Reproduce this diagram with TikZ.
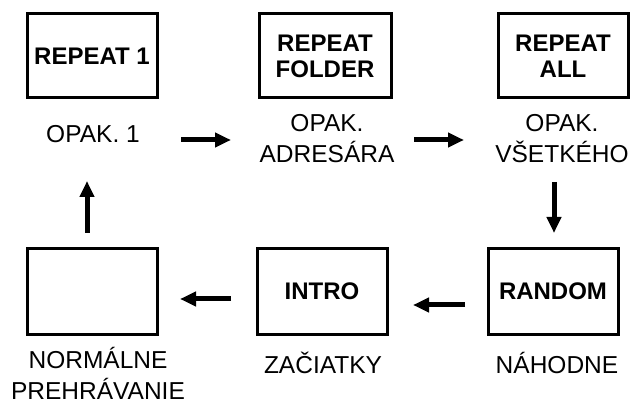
\documentclass[tikz,border=0pt]{standalone}
\usepackage{fontspec}
\setmainfont{Liberation Sans}
\usetikzlibrary{arrows.meta}
\begin{document}
\begin{tikzpicture}[x=1pt,y=-1pt,
  box/.style={draw=black,line width=3pt,minimum width=130pt,minimum height=84pt,inner sep=0pt,
    align=center,font=\bfseries\fontsize{24}{26}\selectfont},
  lab/.style={anchor=base,align=center,inner sep=0pt,font=\fontsize{24.5}{31}\selectfont},
  flow/.style={line width=5pt,-{Triangle[length=16pt,width=14pt]}}]
\useasboundingbox (0,0) rectangle (635,406);
\fill[white] (0,0) rectangle (635,406);
% boxes
\node[box] (b1) at (92,56) {REPEAT 1};
\node[box,minimum width=132pt] (b2) at (325,56) {REPEAT\\FOLDER};
\node[box] (b3) at (563,56) {REPEAT\\ALL};
\node[box,minimum height=85pt] (b4) at (92,291.5) {};
\node[box,minimum height=85pt] (b5) at (322,291.5) {INTRO};
\node[box,minimum height=85pt] (b6) at (553,291.5) {RANDOM};
% labels (base = baseline of last line)
\node[lab] (l1) at (93,143) {OPAK. 1};
\node[lab] (l2) at (327,163) {OPAK.\\ADRESÁRA};
\node[lab] (l3) at (562,163) {OPAK.\\VŠETKÉHO};
\node[lab] (l4) at (98,399) {NORMÁLNE\\PREHRÁVANIE};
\node[lab] (l5) at (323,373) {ZAČIATKY};
\node[lab] (l6) at (557,373) {NÁHODNE};
% arrow ends
\coordinate (a1s) at (181,140); \coordinate (a1e) at (231,140);
\coordinate (a2s) at (414,140); \coordinate (a2e) at (464,140);
\coordinate (a3s) at (554,182); \coordinate (a3e) at (554,233);
\coordinate (a4s) at (465,305); \coordinate (a4e) at (413,305);
\coordinate (a5s) at (231,299); \coordinate (a5e) at (180,299);
\coordinate (a6s) at (87,233); \coordinate (a6e) at (87,181);
\draw[flow] (a1s) -- (a1e);
\draw[flow] (a2s) -- (a2e);
\draw[flow] (a3s) -- (a3e);
\draw[flow] (a4s) -- (a4e);
\draw[flow] (a5s) -- (a5e);
\draw[flow] (a6s) -- (a6e);
\end{tikzpicture}
\end{document}
